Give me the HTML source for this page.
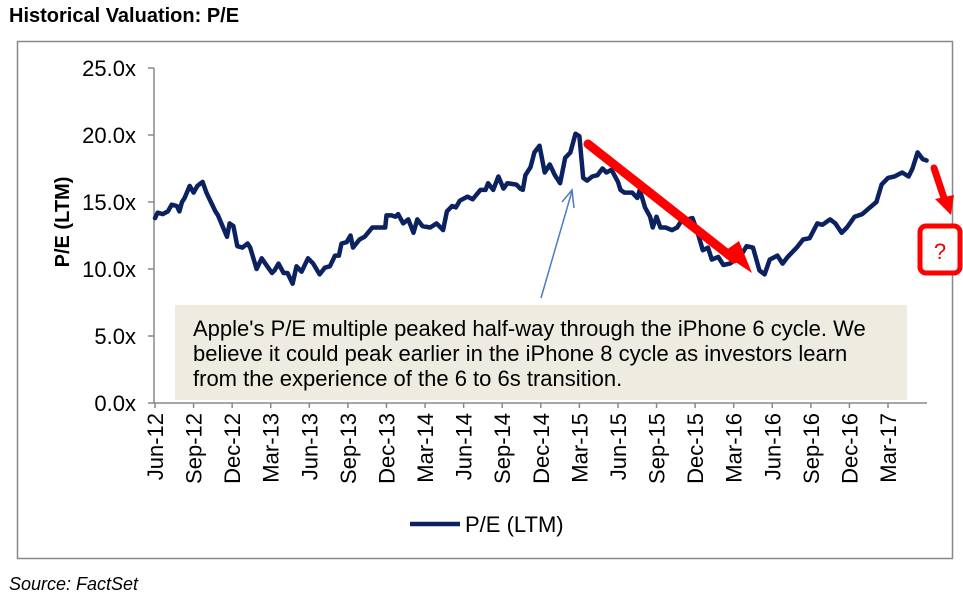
<!DOCTYPE html>
<html><head><meta charset="utf-8"><style>
body{margin:0;background:#fff;width:963px;height:600px;overflow:hidden;font-family:"Liberation Sans",Arial,sans-serif}
svg{display:block}
</style></head><body>
<svg id="chart" width="963" height="600" xmlns="http://www.w3.org/2000/svg" font-family="Liberation Sans, Arial, sans-serif">
<text x="9" y="22" font-size="20" font-weight="bold" fill="#000">Historical Valuation: P/E</text>
<rect x="17.5" y="41.5" width="935" height="517" fill="#fff" stroke="#888" stroke-width="1.5"/>
<g id="yaxis"></g>
<g id="xaxis"></g>
<text transform="translate(69,222) rotate(-90)" text-anchor="middle" font-size="20" font-weight="bold">P/E (LTM)</text>
<rect x="175" y="305" width="732" height="95" fill="#eeebe1"/>
<g font-size="22" fill="#000">
<text x="193" y="336">Apple's P/E multiple peaked half-way through the iPhone 6 cycle. We</text>
<text x="193" y="361">believe it could peak earlier in the iPhone 8 cycle as investors learn</text>
<text x="193" y="386">from the experience of the 6 to 6s transition.</text>
</g>
<path id="series" fill="none" stroke="#0b2160" stroke-width="4.5" stroke-linejoin="round" stroke-linecap="round"/>
<g stroke="#4a7cc0" stroke-width="1.5" fill="none">
<line x1="541" y1="298" x2="572" y2="191"/>
<polyline points="562,202 572,190 574,208"/>
</g>
<g>
<line x1="588" y1="144" x2="734" y2="259" stroke="#f00" stroke-width="9" stroke-linecap="round"/>
<polygon points="722,253 752,273 739,241" fill="#f00"/>
</g>
<g>
<line x1="934" y1="168" x2="944" y2="198" stroke="#f00" stroke-width="7" stroke-linecap="round"/>
<polygon points="935,199 951,215 954,195" fill="#f00"/>
</g>
<rect x="920" y="226" width="40" height="47" rx="6" fill="#fff" stroke="#f00" stroke-width="5"/>
<text x="940" y="259" text-anchor="middle" font-size="22" fill="#e00">?</text>
<line x1="410" y1="524" x2="460" y2="524" stroke="#0b2160" stroke-width="4.5"/>
<text x="465" y="532" font-size="22">P/E (LTM)</text>
<text x="9" y="590" font-size="18" font-style="italic">Source: FactSet</text>
</svg>
<script>
const tickLabels=["Jun-12","Sep-12","Dec-12","Mar-13","Jun-13","Sep-13","Dec-13","Mar-14","Jun-14","Sep-14","Dec-14","Mar-15","Jun-15","Sep-15","Dec-15","Mar-16","Jun-16","Sep-16","Dec-16","Mar-17"];
const yTicks=[0,5,10,15,20,25];
const months=[0,0.2,0.6,1.0,1.3,1.7,1.9,2.1,2.3,2.7,3.0,3.3,3.7,4.0,4.7,4.9,5.6,5.8,6.1,6.4,6.8,7.2,7.4,7.9,8.3,8.8,9.1,9.3,9.6,10.0,10.3,10.7,11.0,11.4,11.9,12.3,12.8,13.2,13.6,14.0,14.3,14.5,14.9,15.2,15.4,15.9,16.3,16.9,17.5,17.9,18.0,18.4,18.7,18.9,19.3,19.7,20.1,20.4,20.8,21.4,21.9,22.4,22.7,23.1,23.4,23.7,24.3,24.7,25.3,25.7,25.9,26.3,26.7,27.1,27.4,28.1,28.4,28.6,28.8,29.2,29.5,29.9,30.3,30.7,31.1,31.5,31.9,32.3,32.7,33.0,33.3,33.6,34.0,34.4,34.8,35.1,35.5,36.0,36.2,36.5,37.1,37.5,37.7,38.1,38.5,38.7,39.0,39.3,39.7,40.2,40.6,41.0,41.4,41.8,42.2,42.6,43.0,43.3,43.8,44.2,44.7,45.5,46.0,46.5,47.0,47.4,47.8,48.4,48.8,49.2,49.9,50.4,50.9,51.5,51.9,52.5,52.9,53.4,53.8,54.4,55.0,55.6,56.1,56.5,57.0,57.5,58.1,58.6,58.9,59.3,59.7,60.0];
const peValues=[13.8,14.2,14.1,14.3,14.8,14.7,14.3,15.0,15.3,16.2,15.7,16.2,16.5,15.7,14.3,14.0,12.4,13.4,13.2,11.7,11.6,11.9,11.6,10.0,10.8,10.1,9.7,9.9,10.4,9.7,9.7,8.9,10.2,9.8,10.8,10.4,9.6,10.1,10.2,11.0,11.0,11.9,12.0,12.5,11.6,12.2,12.4,13.1,13.1,13.1,14.0,14.0,13.9,14.1,13.4,13.7,12.7,13.7,13.2,13.1,13.4,12.9,14.3,14.7,14.6,15.1,15.4,15.2,15.9,15.9,16.4,15.9,16.9,16.0,16.4,16.3,16.0,15.9,17.0,17.6,18.7,19.2,17.2,17.8,17.0,16.4,18.3,18.7,20.1,19.9,16.8,16.6,16.9,17.0,17.5,17.2,17.4,16.5,15.9,15.7,15.7,15.3,15.9,14.6,13.9,13.1,13.9,13.1,13.1,12.9,13.1,13.7,13.7,13.8,12.7,11.4,11.6,10.7,10.9,10.3,10.4,10.9,11.7,11.6,9.9,9.6,10.7,11.0,10.4,10.9,11.6,12.2,12.3,13.4,13.3,13.7,13.4,12.7,13.1,13.9,14.1,14.6,15.0,16.3,16.8,16.9,17.2,16.9,17.5,18.7,18.2,18.1];
const X0=155, MPX=38.58/3, Y0=403, PPU=67/5;
const xScale=m=>X0+m*MPX;
const yScale=v=>Y0-v*PPU;
const NS="http://www.w3.org/2000/svg";
const ya=document.getElementById('yaxis'), xa=document.getElementById('xaxis');
function mk(tag,attrs,parent){const e=document.createElementNS(NS,tag);for(const k in attrs)e.setAttribute(k,attrs[k]);parent.appendChild(e);return e;}
const yl=mk('line',{x1:154,y1:yScale(25),x2:154,y2:Y0,stroke:'#888','stroke-width':1.5},ya);


yTicks.forEach(v=>{
  const t=mk('line',{x1:148,x2:154,y1:yScale(v),y2:yScale(v),stroke:'#888','stroke-width':1.5},ya);
  
  
  const l=mk('text',{x:136,y:yScale(v)+8,'text-anchor':'end','font-size':22},ya);
  l.textContent=v.toFixed(1)+'x';
  
  
});
const xl=mk('line',{x1:154,y1:Y0,x2:927,y2:Y0,stroke:'#888','stroke-width':1.5},xa);


tickLabels.forEach((s,i)=>{
  const x=xScale(i*3);
  const t=mk('line',{x1:x,x2:x,y1:Y0,y2:Y0+5,stroke:'#888','stroke-width':1.5},xa);
  
  
  const l=mk('text',{transform:`translate(${x+8},${Y0+10}) rotate(-90)`,'text-anchor':'end','font-size':22},xa);
  l.textContent=s;
  
  
});
document.getElementById('series').setAttribute('d',months.map((m,i)=>(i?'L':'M')+xScale(m).toFixed(1)+','+yScale(peValues[i]).toFixed(1)).join(''));
</script>
</body></html>
